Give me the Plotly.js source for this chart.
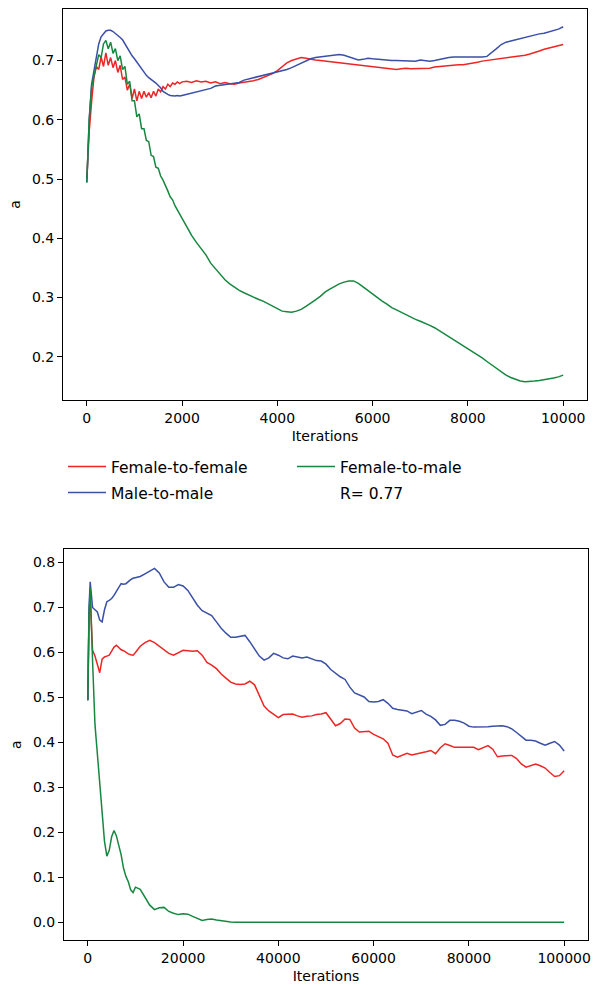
<!DOCTYPE html>
<html>
<head>
<meta charset="utf-8">
<script src="https://cdn.plot.ly/plotly-3.0.1.min.js"></script>
<style>html,body{margin:0;padding:0;background:#fff;}#chart{width:594px;height:985px;}</style>
</head>
<body>
<div id="chart"></div>
<script>
// ---------- top panel (10 000 iterations) ----------
const topIter = [0,50,100,150,200,250,300,350,400,450,500,550,600,650,700,750,800,850,900,950,1000,
  1050,1100,1150,1200,1250,1300,1350,1400,1450,1500,1550,1600,1650,1700,1750,1800,1850,1900,1950,2000,
  2100,2200,2300,2400,2500,2600,2700,2800,2900,3000,3100,3200,3300,3400,3500,3600,3700,3800,3900,4000,
  4100,4200,4300,4400,4500,4600,4700,4800,4900,5000,5100,5200,5300,5400,5500,5600,5700,5800,5900,6000,
  6100,6200,6300,6400,6500,6600,6700,6800,6900,7000,7100,7200,7300,7400,7500,7600,7700,7800,7900,8000,
  8100,8200,8300,8400,8500,8600,8700,8800,8900,9000,9100,9200,9300,9400,9500,9600,9700,9800,9900,10000];

const topFF = [0.500,0.580,0.630,0.672,0.690,0.685,0.706,0.690,0.713,0.692,0.705,0.688,0.700,0.680,0.692,0.668,0.672,0.650,0.660,0.636,0.652,
  0.632,0.648,0.636,0.648,0.638,0.646,0.637,0.648,0.640,0.652,0.647,0.656,0.652,0.660,0.656,0.662,0.660,0.664,0.661,0.664,
  0.665,0.663,0.666,0.664,0.665,0.662,0.664,0.661,0.663,0.661,0.660,0.662,0.663,0.664,0.666,0.668,0.671,0.675,0.678,0.683,
  0.690,0.696,0.700,0.703,0.705,0.704,0.702,0.701,0.700,0.699,0.698,0.698,0.697,0.696,0.695,0.694,0.693,0.692,0.690,0.689,
  0.688,0.687,0.686,0.685,0.685,0.686,0.687,0.686,0.686,0.686,0.686,0.687,0.689,0.690,0.691,0.691,0.692,0.693,0.693,0.694,
  0.695,0.697,0.699,0.700,0.702,0.703,0.704,0.705,0.705,0.706,0.707,0.709,0.711,0.713,0.716,0.719,0.721,0.723,0.725,0.727];

const topMM = [0.494,0.600,0.660,0.685,0.710,0.728,0.740,0.746,0.750,0.751,0.751,0.749,0.746,0.743,0.739,0.735,0.728,0.722,0.716,0.708,0.703,
  0.697,0.692,0.685,0.679,0.675,0.671,0.668,0.666,0.662,0.658,0.654,0.648,0.645,0.643,0.641,0.640,0.640,0.641,0.640,0.641,
  0.643,0.644,0.646,0.648,0.650,0.653,0.657,0.658,0.659,0.660,0.661,0.663,0.667,0.669,0.670,0.672,0.674,0.676,0.678,0.680,
  0.682,0.685,0.688,0.692,0.695,0.699,0.703,0.705,0.706,0.706,0.707,0.708,0.710,0.709,0.706,0.703,0.701,0.702,0.704,0.703,
  0.702,0.701,0.701,0.700,0.700,0.700,0.700,0.699,0.699,0.701,0.700,0.699,0.700,0.702,0.703,0.705,0.706,0.706,0.706,0.706,
  0.705,0.705,0.706,0.707,0.713,0.720,0.727,0.731,0.733,0.735,0.737,0.740,0.742,0.743,0.745,0.746,0.748,0.750,0.753,0.757];

const topFM = [0.494,0.600,0.655,0.675,0.690,0.710,0.705,0.728,0.734,0.720,0.731,0.712,0.720,0.700,0.708,0.685,0.690,0.660,0.665,0.632,0.632,
  0.605,0.610,0.585,0.585,0.565,0.563,0.540,0.538,0.520,0.518,0.505,0.498,0.490,0.480,0.470,0.465,0.455,0.448,0.440,0.432,
  0.418,0.405,0.393,0.382,0.372,0.358,0.348,0.338,0.330,0.323,0.317,0.312,0.308,0.304,0.300,0.297,0.294,0.290,0.285,0.281,
  0.277,0.276,0.275,0.277,0.280,0.285,0.290,0.296,0.302,0.309,0.314,0.319,0.323,0.326,0.328,0.328,0.324,0.318,0.312,0.306,
  0.299,0.294,0.289,0.283,0.279,0.275,0.270,0.266,0.263,0.260,0.257,0.253,0.249,0.244,0.239,0.234,0.229,0.224,0.219,0.214,
  0.209,0.204,0.198,0.192,0.186,0.180,0.174,0.169,0.165,0.162,0.159,0.158,0.158,0.159,0.160,0.161,0.162,0.164,0.166,0.169];

// ---------- bottom panel (100 000 iterations) ----------
const botIter = [0,250,500,750,1000,1500,2000,2500,3000,3500,4000,4500,5000,5500,6000,6500,7000,7500,8000,8500,9000,9500,10000,
  11000,12000,13000,14000,15000,16000,17000,18000,19000,20000,21000,22000,23000,24000,25000,26000,27000,28000,29000,30000,
  31000,32000,33000,34000,35000,36000,37000,38000,39000,40000,41000,42000,43000,44000,45000,46000,47000,48000,49000,50000,
  51000,52000,53000,54000,55000,56000,57000,58000,59000,60000,61000,62000,63000,64000,65000,66000,67000,68000,69000,70000,
  71000,72000,73000,74000,75000,76000,77000,78000,79000,80000,81000,82000,83000,84000,85000,86000,87000,88000,89000,90000,
  91000,92000,93000,94000,95000,96000,97000,98000,99000,100000];

const botFF = [0.494,0.680,0.720,0.650,0.605,0.592,0.575,0.555,0.585,0.590,0.592,0.594,0.603,0.612,0.616,0.610,0.606,0.604,0.600,0.597,0.595,0.594,0.600,
  0.614,0.622,0.627,0.622,0.614,0.604,0.598,0.594,0.600,0.605,0.604,0.603,0.604,0.594,0.578,0.572,0.564,0.552,0.543,0.534,
  0.530,0.529,0.530,0.536,0.528,0.503,0.481,0.470,0.462,0.455,0.462,0.462,0.463,0.459,0.456,0.458,0.459,0.462,0.463,0.466,
  0.452,0.437,0.442,0.452,0.451,0.432,0.423,0.424,0.425,0.418,0.413,0.408,0.398,0.372,0.367,0.372,0.376,0.372,0.374,0.377,
  0.379,0.382,0.375,0.388,0.397,0.393,0.389,0.389,0.389,0.389,0.389,0.384,0.388,0.393,0.385,0.368,0.370,0.371,0.371,0.364,
  0.352,0.345,0.348,0.352,0.348,0.343,0.333,0.324,0.326,0.337];

const botMM = [0.494,0.700,0.757,0.735,0.700,0.695,0.690,0.672,0.668,0.695,0.713,0.716,0.720,0.727,0.737,0.745,0.753,0.752,0.753,0.758,0.762,0.765,0.766,
  0.769,0.775,0.781,0.787,0.777,0.757,0.745,0.745,0.751,0.748,0.738,0.722,0.705,0.693,0.688,0.682,0.668,0.654,0.643,0.634,
  0.634,0.636,0.638,0.624,0.607,0.592,0.583,0.588,0.598,0.594,0.588,0.586,0.592,0.590,0.588,0.590,0.586,0.582,0.581,0.574,
  0.562,0.553,0.546,0.540,0.523,0.510,0.506,0.501,0.491,0.490,0.491,0.495,0.487,0.476,0.473,0.471,0.470,0.464,0.467,0.471,
  0.463,0.458,0.450,0.438,0.440,0.449,0.449,0.447,0.443,0.436,0.434,0.434,0.434,0.435,0.436,0.437,0.437,0.435,0.430,0.422,
  0.413,0.405,0.405,0.403,0.398,0.394,0.398,0.402,0.394,0.381];

const botFM = [0.494,0.680,0.745,0.680,0.580,0.440,0.370,0.310,0.235,0.180,0.147,0.160,0.190,0.204,0.192,0.172,0.150,0.120,0.102,0.090,0.072,0.066,0.078,
  0.073,0.055,0.038,0.028,0.032,0.033,0.024,0.020,0.017,0.019,0.018,0.013,0.009,0.004,0.006,0.007,0.005,0.003,0.001,0.0005,
  0.0002,0,0,0,0,0,0,0,0,0,0,0,0,0,0,0,0,0,0,0,
  0,0,0,0,0,0,0,0,0,0,0,0,0,0,0,0,0,0,0,0,
  0,0,0,0,0,0,0,0,0,0,0,0,0,0,0,0,0,0,0,0,
  0,0,0,0,0,0,0,0,0,0];

const seriesNames = ["Female-to-female","Male-to-male","Female-to-male"];
const noteLabel = "R= 0.77";
const topXTicks = [0,2000,4000,6000,8000,10000];
const topYTicks = [0.2,0.3,0.4,0.5,0.6,0.7];
const botXTicks = [0,20000,40000,60000,80000,100000];
const botYTicks = [0.0,0.1,0.2,0.3,0.4,0.5,0.6,0.7,0.8];

const RED = '#ee2525', BLUE = '#3a4fa6', GREEN = '#17873f';
const LW = 1.5;

const traces = [
  {x: topIter, y: topFF, xaxis:'x', yaxis:'y', mode:'lines', name: seriesNames[0], line:{color:RED,width:LW}, legend:'legend'},
  {x: topIter, y: topMM, xaxis:'x', yaxis:'y', mode:'lines', name: seriesNames[1], line:{color:BLUE,width:LW}, legend:'legend2'},
  {x: topIter, y: topFM, xaxis:'x', yaxis:'y', mode:'lines', name: seriesNames[2], line:{color:GREEN,width:LW}, legend:'legend3'},
  {x: [null], y: [null], xaxis:'x', yaxis:'y', mode:'lines', name: noteLabel, line:{color:'rgba(0,0,0,0)',width:LW}, legend:'legend4', showlegend:true},
  {x: botIter, y: botFF, xaxis:'x2', yaxis:'y2', mode:'lines', name: seriesNames[0], line:{color:RED,width:LW}, showlegend:false},
  {x: botIter, y: botMM, xaxis:'x2', yaxis:'y2', mode:'lines', name: seriesNames[1], line:{color:BLUE,width:LW}, showlegend:false},
  {x: botIter, y: botFM, xaxis:'x2', yaxis:'y2', mode:'lines', name: seriesNames[2], line:{color:GREEN,width:LW}, showlegend:false}
];

const FONT = 'DejaVu Sans, sans-serif';
const axisCommon = {
  showline:true, mirror:true, linecolor:'#000', linewidth:1,
  ticks:'outside', ticklen:5, tickwidth:1, tickcolor:'#000',
  showgrid:false, zeroline:false, automargin:false,
  tickfont:{family:FONT,size:14,color:'#000'}
};
const legCommon = {bgcolor:'rgba(0,0,0,0)', borderwidth:0, font:{family:FONT,size:15.5,color:'#000'},
  xanchor:'left', yanchor:'middle', itemwidth:38, itemclick:false, itemdoubleclick:false};

const W = 594, H = 985;
const layout = {
  width:W, height:H, margin:{l:0,r:0,t:0,b:0},
  paper_bgcolor:'#fff', plot_bgcolor:'#fff',
  font:{family:FONT,size:14,color:'#000'},
  xaxis: Object.assign({}, axisCommon, {domain:[63/W,587/W], range:[-500,10500], tickvals:topXTicks, ticktext:topXTicks.map(String),
    anchor:'y', title:{text:'Iterations', font:{family:FONT,size:14}, standoff:6}}),
  yaxis: Object.assign({}, axisCommon, {domain:[1-400/H,1-9/H], range:[0.127,0.787], tickvals:topYTicks, ticktext:topYTicks.map(v=>v.toFixed(1)),
    anchor:'x', title:{text:'a', font:{family:FONT,size:14}, standoff:8}}),
  xaxis2: Object.assign({}, axisCommon, {domain:[64/W,588/W], range:[-5000,105000], tickvals:botXTicks, ticktext:botXTicks.map(String),
    anchor:'y2', title:{text:'Iterations', font:{family:FONT,size:14}, standoff:6}}),
  yaxis2: Object.assign({}, axisCommon, {domain:[1-940/H,1-549.3/H], range:[-0.0395,0.8295], tickvals:botYTicks, ticktext:botYTicks.map(v=>v.toFixed(1)),
    anchor:'x2', title:{text:'a', font:{family:FONT,size:14}, standoff:8}}),
  legend:  Object.assign({}, legCommon, {x:63/W,  y:1-467/H}),
  legend2: Object.assign({}, legCommon, {x:63/W,  y:1-493/H}),
  legend3: Object.assign({}, legCommon, {x:292/W, y:1-467/H}),
  legend4: Object.assign({}, legCommon, {x:292/W, y:1-493/H}),
  showlegend:true
};

Plotly.newPlot('chart', traces, layout, {displayModeBar:false, staticPlot:true});
</script>
</body>
</html>
